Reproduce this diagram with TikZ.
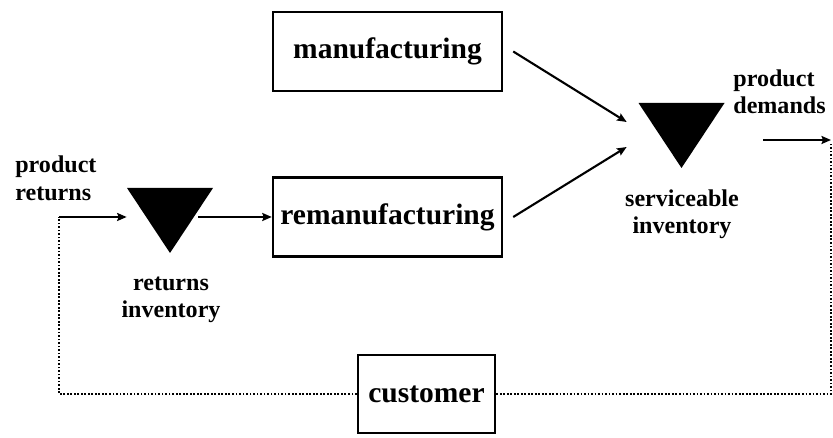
\documentclass[tikz,border=0pt]{standalone}
\usepackage{fontspec}
\setmainfont{Liberation Serif}
\usetikzlibrary{arrows.meta}

\begin{document}
\begin{tikzpicture}[
    flow/.style={-{Stealth[length=0.19cm,width=0.16cm,inset=0.03cm]},line width=1.2pt},
    stage/.style={draw,line width=1.4pt,minimum width=4.58cm,minimum height=1.58cm,inner sep=0pt,
        font=\fontsize{16.8}{20}\selectfont\bfseries},
    stock/.style={minimum width=1.72cm,minimum height=1.3cm,inner sep=0pt,
        path picture={\fill (path picture bounding box.north west) -- (path picture bounding box.north east)
            -- (path picture bounding box.south) -- cycle;}},
    tag/.style={align=center,inner sep=0pt,font=\fontsize{13.7}{15.6}\selectfont\bfseries},
    retline/.style={line width=1.3pt,dash pattern=on 1pt off 1pt}
]
    \useasboundingbox (0,0) rectangle (16.66,8.76);

    % Production stages
    \node[stage] (man) at (7.75,7.73) {manufacturing};
    \node[stage] (reman) at (7.75,4.42) {remanufacturing};
    \node[stage,minimum width=2.74cm,minimum height=1.56cm] (cust) at (8.53,0.88) {customer};

    % Inventories
    \node[stock] (retinv) at (3.40,4.35) {};
    \node[stock] (servinv) at (13.63,6.05) {};

    % Labels
    \node[tag,align=left,anchor=west] (prodret) at (0.3,5.19) {product\\returns};
    \node[tag] (retlab) at (3.42,2.76) {returns\\inventory};
    \node[tag] (servlab) at (13.64,4.48) {serviceable\\inventory};
    \node[tag,align=left,anchor=west] (prodmd) at (14.66,6.92) {product\\demands};

    % Flows
    \coordinate (retin) at (1.18,4.42);
    \coordinate (retout) at (3.96,4.42);
    \coordinate (dmdstart) at (15.26,5.96);
    \coordinate (dmdtip) at (16.62,5.96);

    \draw[flow] (retin) -- (retin -| retinv.west);
    \draw[flow] (retout) -- (reman.west);
    \draw[flow] ([xshift=0.2cm]man.east) -- ([shift={(-0.23,0.27)}]servinv.west);
    \draw[flow] ([xshift=0.2cm]reman.east) -- ([shift={(-0.23,-0.23)}]servinv.west);
    \draw[flow] (dmdstart) -- (dmdtip);

    % Return loop through the customer
    \draw[retline] (cust.west) -- (cust.west -| retin) -- (retin);
    \draw[retline] (cust.east) -- (cust.east -| dmdtip) -- ([yshift=-0.08cm]dmdtip);
\end{tikzpicture}
\end{document}
